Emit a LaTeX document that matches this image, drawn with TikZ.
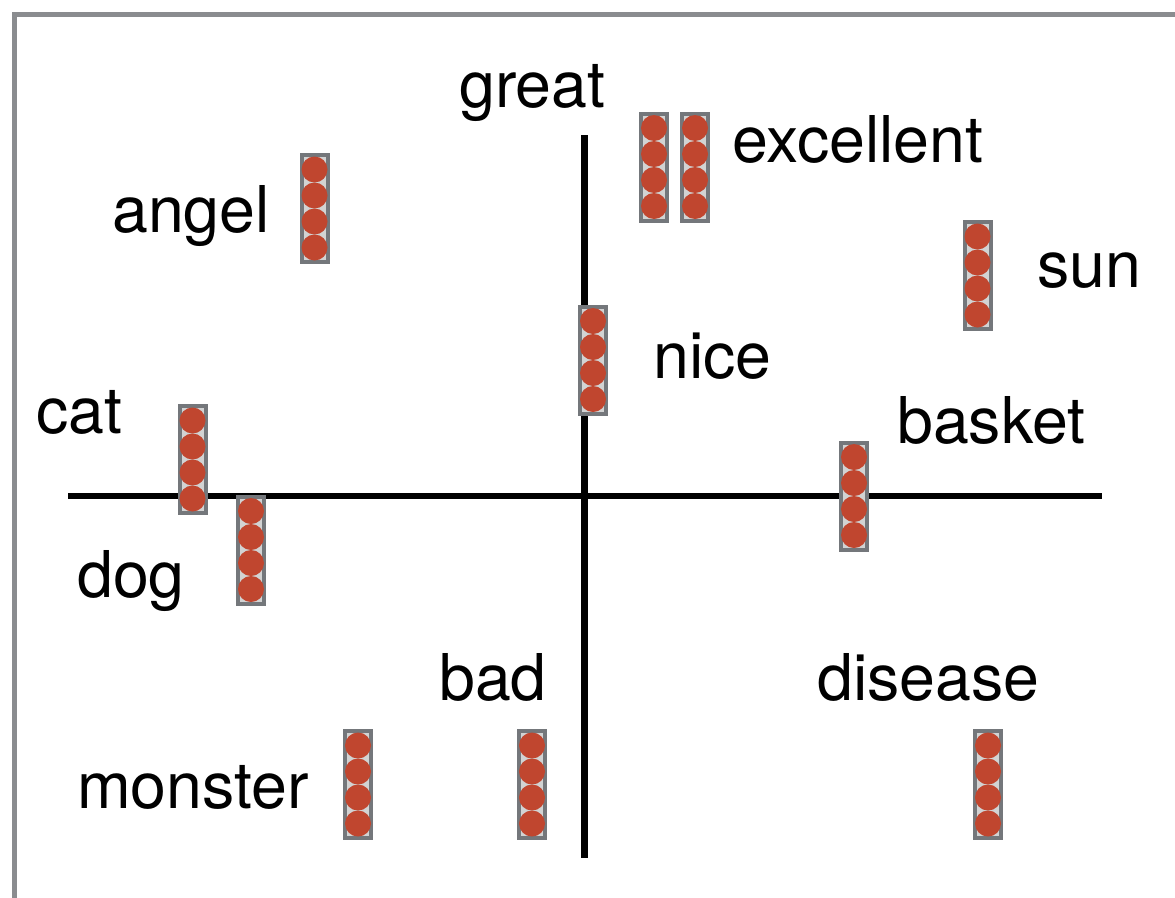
\documentclass[tikz,border=0pt]{standalone}
\usepackage{fontspec}
\setmainfont{TeX Gyre Heros}
\definecolor{framegray}{HTML}{8A8C8F}
\definecolor{stackgray}{HTML}{74777B}
\definecolor{stackin}{HTML}{D2D3D3}
\definecolor{dotred}{HTML}{C0462F}
\tikzset{
  lbl/.style={anchor=base west, inner sep=0pt, font=\fontsize{64.5}{64.5}\selectfont},
  stackbox/.style={rectangle, draw=stackgray, line width=4pt, fill=stackin,
    minimum width=26pt, minimum height=107pt, inner sep=0pt},
  dot/.style={circle, fill=dotred, minimum size=26pt, inner sep=0pt},
  axis/.style={line width=6.5pt, black},
}
\newcommand{\vstack}[2]{%
  \node[stackbox] (#1) at (#2) {};
  \foreach \k/\dy in {1/-39,2/-13,3/13,4/39}
    \node[dot] (#1-\k) at ([yshift=-\dy pt]#1.center) {};
}
\begin{document}
\begin{tikzpicture}[x=1pt,y=-1pt]
\useasboundingbox (0,0) rectangle (1175,897);
\fill[white] (0,0) rectangle (1175,897);
% frame
\draw[framegray, line width=5pt] (14.5,900) -- (14.5,14.5) -- (1180,14.5);
% axes
\coordinate (xl) at (68,496);
\coordinate (xr) at (1102,496);
\coordinate (yt) at (584.5,135);
\coordinate (yb) at (584.5,858);
\draw[axis] (xl) -- (xr);
\draw[axis] (yt) -- (yb);
% stacks
\vstack{angel}{314.5,208.5}
\vstack{exc1}{654,167}
\vstack{exc2}{695,167}
\vstack{sun}{977.5,275.5}
\vstack{nice}{593,360}
\vstack{cat}{192.5,459.5}
\vstack{dog}{251,550}
\vstack{basket}{854,496}
\vstack{monster}{358,784.5}
\vstack{bad}{532,784.5}
\vstack{disease}{988,784.5}
% labels
\node[lbl] (tgreat) at (459,107) {great};
\node[lbl] (texc) at (732,162) {excellent};
\node[lbl] (tangel) at (112,232) {angel};
\node[lbl] (tsun) at (1037,287) {sun};
\node[lbl] (tnice) at (653,378) {nice};
\node[lbl] (tcat) at (36,433) {cat};
\node[lbl] (tbasket) at (897,443) {basket};
\node[lbl] (tdog) at (77,597) {dog};
\node[lbl] (tbad) at (439,700) {bad};
\node[lbl] (tdisease) at (817,700) {disease};
\node[lbl] (tmonster) at (77,808) {monster};
\end{tikzpicture}
\end{document}
